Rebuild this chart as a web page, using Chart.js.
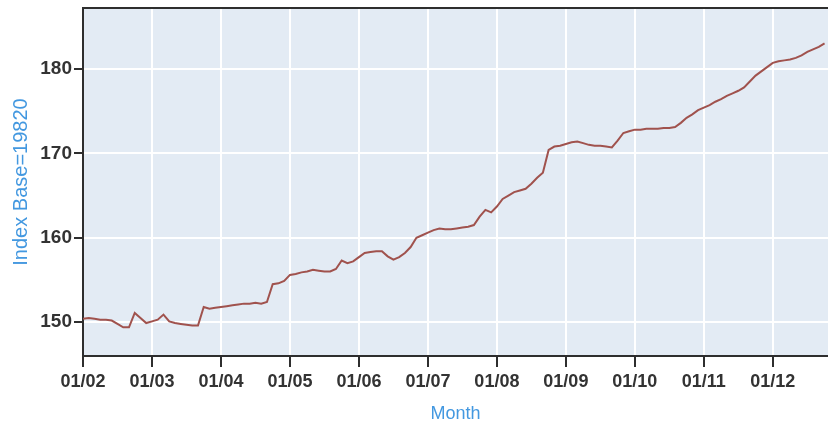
<!DOCTYPE html>
<html>
<head>
<meta charset="utf-8">
<script src="https://cdn.jsdelivr.net/npm/chart.js@4"></script>
<style>
  html, body { margin: 0; padding: 0; background: #fff; }
  #wrap { width: 828px; height: 423px; }
</style>
</head>
<body>
<div id="wrap"><canvas id="indexChart" width="828" height="423"></canvas></div>
<script>
// monthly index values, Jan 2002 .. Oct 2012
const indexValues = [
  150.4, 150.5, 150.4, 150.3, 150.3, 150.2, 149.8, 149.4, 149.4, 151.1, 150.5, 149.9,
  150.1, 150.3, 150.9, 150.1, 149.9, 149.8, 149.7, 149.6, 149.6, 151.8, 151.6, 151.7,
  151.8, 151.9, 152.0, 152.1, 152.2, 152.2, 152.3, 152.2, 152.4, 154.5, 154.6, 154.9,
  155.6, 155.7, 155.9, 156.0, 156.2, 156.1, 156.0, 156.0, 156.3, 157.3, 157.0, 157.2,
  157.7, 158.2, 158.3, 158.4, 158.4, 157.8, 157.4, 157.7, 158.2, 158.9, 160.0, 160.3,
  160.6, 160.9, 161.1, 161.0, 161.0, 161.1, 161.2, 161.3, 161.5, 162.5, 163.3, 163.0,
  163.7, 164.6, 165.0, 165.4, 165.6, 165.8, 166.4, 167.1, 167.7, 170.4, 170.8, 170.9,
  171.1, 171.3, 171.4, 171.2, 171.0, 170.9, 170.9, 170.8, 170.7, 171.5, 172.4, 172.6,
  172.8, 172.8, 172.9, 172.9, 172.9, 173.0, 173.0, 173.1, 173.6, 174.2, 174.6, 175.1,
  175.4, 175.7, 176.1, 176.4, 176.8, 177.1, 177.4, 177.8, 178.5, 179.2, 179.7, 180.2,
  180.7, 180.9, 181.0, 181.1, 181.3, 181.6, 182.0, 182.3, 182.6, 183.0
];
// one label per January
const tickLabels = ['01/02', '01/03', '01/04', '01/05', '01/06', '01/07',
                    '01/08', '01/09', '01/10', '01/11', '01/12'];

const points = indexValues.map((v, i) => ({ x: i, y: v }));

const axisDark = '#2e2e2e';
const titleBlue = '#4398e0';

// plot background + top frame line
const frame = {
  id: 'frame',
  beforeDraw(chart) {
    const { ctx, chartArea: a } = chart;
    ctx.save();
    ctx.fillStyle = '#e3ebf4';
    ctx.fillRect(a.left, a.top, a.right - a.left, a.bottom - a.top);
    ctx.restore();
  },
  afterDraw(chart) {
    const { ctx, chartArea: a } = chart;
    ctx.save();
    ctx.strokeStyle = axisDark;
    ctx.lineWidth = 2;
    ctx.beginPath();
    ctx.moveTo(a.left, a.top);
    ctx.lineTo(a.right, a.top);
    ctx.stroke();
    ctx.restore();
  }
};

new Chart(document.getElementById('indexChart'), {
  type: 'line',
  data: {
    datasets: [{
      data: points,
      borderColor: '#a0524d',
      borderWidth: 2,
      pointRadius: 0,
      tension: 0,
      fill: false
    }]
  },
  options: {
    responsive: false,
    animation: false,
    layout: { padding: { top: 8, left: 0, right: 0, bottom: 0 } },
    plugins: { legend: { display: false }, tooltip: { enabled: false } },
    scales: {
      x: {
        type: 'linear',
        min: 0,
        max: 129.6,
        grid: { color: '#ffffff', lineWidth: 2, tickColor: axisDark, tickLength: 11, tickWidth: 2 },
        border: { color: axisDark, width: 2 },
        ticks: {
          stepSize: 12,
          includeBounds: false,
          autoSkip: false,
          maxRotation: 0,
          padding: 4,
          color: '#333',
          font: { family: 'Liberation Sans, Arial', size: 18, weight: 'bold' },
          callback: (v) => tickLabels[v / 12]
        },
        title: {
          display: true,
          text: 'Month',
          color: titleBlue,
          padding: 0,
          font: { family: 'Liberation Sans, Arial', size: 18, lineHeight: 1 }
        },
        afterFit: (s) => { s.height = 67; s.paddingLeft = 0; s.paddingRight = 0; }
      },
      y: {
        min: 146,
        max: 187.2,
        grid: { color: '#ffffff', lineWidth: 2, tickColor: axisDark, tickLength: 9, tickWidth: 2 },
        border: { color: axisDark, width: 2 },
        ticks: {
          stepSize: 10,
          includeBounds: false,
          padding: 2,
          color: '#333',
          font: { family: 'Liberation Sans, Arial', size: 19, weight: 'bold' }
        },
        title: {
          display: true,
          text: 'Index Base=19820',
          color: titleBlue,
          padding: { top: 11, bottom: 0 },
          font: { family: 'Liberation Sans, Arial', size: 20, lineHeight: 1 }
        },
        afterFit: (s) => { s.width = 83; s.paddingTop = 0; s.paddingBottom = 0; }
      }
    }
  },
  plugins: [frame]
});
</script>
</body>
</html>
